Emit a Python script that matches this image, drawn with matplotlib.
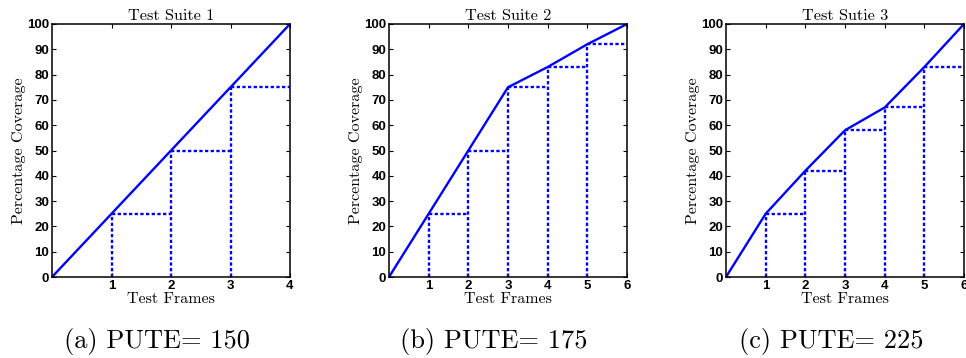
import matplotlib
matplotlib.use("Agg")
import matplotlib.pyplot as plt

# coverage after each test frame
suite1 = [0, 25, 50, 75, 100]
suite2 = [0, 25, 50, 75, 83, 92, 100]
suite3 = [0, 25, 42, 58, 67, 83, 100]

titles = ["Test Suite 1", "Test Suite 2", "Test Sutie 3"]
captions = ["(a) PUTE= 150", "(b) PUTE= 175", "(c) PUTE= 225"]
y_ticks = list(range(0, 101, 10))

serif = "cmr10"
tick_font = {"family": "Liberation Sans", "weight": "bold", "size": 9.5}

W, H = 966, 358
fig = plt.figure(figsize=(W / 100, H / 100), dpi=100)

lefts = [52, 389, 726]
ax_w, ax_top, ax_bot = 238, 24, 277
cap_x = [157, 494, 831]

for k, data in enumerate([suite1, suite2, suite3]):
    ax = fig.add_axes([lefts[k] / W, (H - ax_bot) / H, ax_w / W, (ax_bot - ax_top) / H])
    n = len(data) - 1
    frames = list(range(n + 1))

    # dotted staircase: vertical drop at each frame, then flat to the next one
    for i in range(1, n):
        ax.plot([frames[i], frames[i]], [0, data[i]], color="blue", lw=1.7,
                linestyle=(0, (1.4, 1.0)))
        ax.plot([frames[i], frames[i + 1]], [data[i], data[i]], color="blue", lw=1.7,
                linestyle=(0, (1.4, 1.0)))
    ax.plot(frames, data, color="blue", lw=1.7)

    ax.set_xlim(0, n)
    ax.set_ylim(0, 100)
    ax.set_xticks(frames[1:])
    ax.set_yticks(y_ticks)
    ax.set_xticklabels([str(f) for f in frames[1:]], fontdict=tick_font)
    ax.set_yticklabels([str(v) for v in y_ticks], fontdict=tick_font)
    ax.tick_params(direction="in", length=3, width=0.8, top=True, right=True,
                   pad=2, colors="black")
    for s in ax.spines.values():
        s.set_linewidth(1.1)

    ax.set_title(titles[k], family=serif, fontsize=11.7, pad=3)
    ax.set_xlabel("Test Frames", family=serif, fontsize=11.5, labelpad=0.5)
    ax.set_ylabel("Percentage Coverage", family=serif, fontsize=11.5, labelpad=1)

    fig.text(cap_x[k] / W, 1 - 348 / H, captions[k], family=serif, fontsize=19,
             ha="center", va="baseline")

fig.savefig("out.png", dpi=100)
